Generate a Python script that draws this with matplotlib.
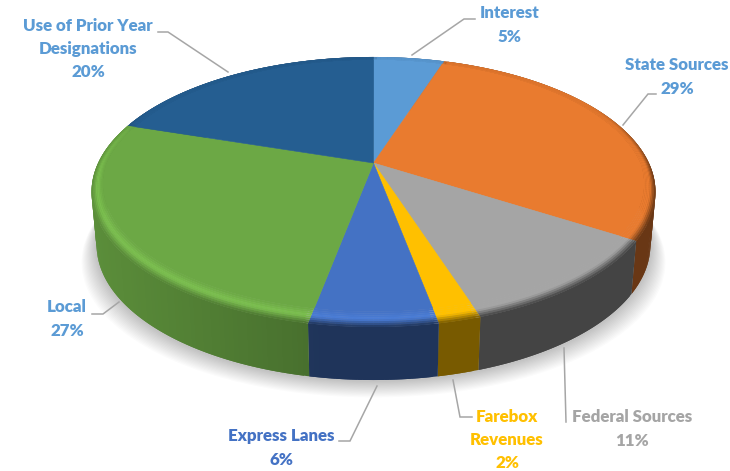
#!/usr/bin/env python
# -*- coding: utf-8 -*-

"""
Revenue sources drawn as a 3D pie with a bevelled rim.
"""

import numpy as np
import matplotlib
matplotlib.use('Agg')
import matplotlib.pyplot as plt
from matplotlib.collections import PolyCollection
from matplotlib.colors import to_rgb

names = ['Interest', 'State Sources', 'Federal Sources', 'Farebox\nRevenues',
         'Express Lanes', 'Local', 'Use of Prior Year\nDesignations']
values = [5, 29, 11, 2, 6, 27, 20]
colors = ['#5B9BD5', '#E97B2F', '#A5A5A5', '#FFC000', '#4472C4', '#6CA845', '#255E91']
label_colors = ['#5B9BD5', '#5B9BD5', '#A5A5A5', '#FFC000', '#4472C4', '#5B9BD5', '#5B9BD5']

# how dark the side wall is and how bright the rim gets, per slice
wall_shade = [0.6, 0.45, 0.41, 0.47, 0.46, 0.66, 0.6]
rim_shine = [1.0, 1.0, 1.0, 1.0, 1.1, 1.15, 1.0]

label_pos = [(510, 25), (677, 77), (632, 429), (507, 440), (281, 448), (67, 319), (88, 49)]
leaders = [
    [(412, 55), (464, 19), (475, 19)],
    [(623, 125), (648, 94), (656, 94)],
    [(564, 348), (566, 422)],
    [(453, 380), (460, 417), (472, 417)],
    [(377, 386), (350, 441), (339, 441)],
    [(119, 302), (103, 314), (92, 314)],
    [(228, 72), (168, 32), (158, 32)],
]

cx, cy = 373.5, 163.0
radius_x, radius_y = 275.4, 128.8
tilt = 0.2148
depth = 53.0


def project(r, t):
    # t runs clockwise from 12 o'clock, near side of the disc appears larger
    x = r * np.sin(t)
    y = -r * np.cos(t)
    w = 1 - tilt * y
    return cx + radius_x * x / w, cy + radius_y * y / w


def lower_edge(t):
    x, y = project(1.0, t)
    return cx + (x - cx) * 0.982, y + depth


def mix(a, b, s):
    return tuple(min(1, p + (q - p) * s) for p, q in zip(a, b))


def wall_lift(x):
    return 1 + 0.28 * np.clip((320 - x) / 230, 0, 1)


fig = plt.figure(figsize=(7.30, 4.71), dpi=100)
ax = fig.add_axes([0, 0, 1, 1])
ax.set_xlim(0, 730)
ax.set_ylim(471, 0)
ax.axis('off')

# soft shadow under the pie
around = np.linspace(0, 2 * np.pi, 361)
bx, by = lower_edge(around)
for grow in np.linspace(14, 0, 15):
    sx = cx + (bx - cx) * (1 + (grow + 1) / 276)
    sy = by + grow * 1.1 + 2
    ax.fill(sx, sy, color='#000000', alpha=0.016, lw=0, zorder=1)

edges = np.cumsum([0] + values) / sum(values) * 2 * np.pi

wall_quads, wall_cols = [], []
top_quads, top_cols = [], []
for i in range(len(values)):
    base = to_rgb(colors[i])
    steps = max(6, int(values[i] * 4))
    ts = np.linspace(edges[i], edges[i + 1], steps + 1)

    # side wall, each strip runs under the next one so no seams show
    for k in range(steps):
        t0, t1 = ts[k], ts[min(k + 2, steps)]
        x0, y0 = project(1.0, t0)
        x1, y1 = project(1.0, t1)
        xb0, yb0 = lower_edge(t0)
        xb1, yb1 = lower_edge(t1)
        c = tuple(min(1, v * wall_shade[i] * wall_lift(x0)) for v in base)
        wall_quads.append([(x0, y0), (x1, y1), (xb1, yb1), (xb0, yb0)])
        wall_cols.append(c)

    # flat part of the top
    rim = 0.03 + 0.045 * np.clip(-np.cos(ts), 0, 1)
    inner_x, inner_y = project(1 - rim, ts)
    face = [(cx, cy)] + list(zip(inner_x, inner_y))
    ax.fill(*zip(*face), color=base, lw=0.4, zorder=3)

    # bevelled rim, fades out on the far side of the disc
    shine = tuple(min(1, v * rim_shine[i]) for v in base)
    rings = np.linspace(0, 1, 9)
    for k in range(steps):
        t0, t1 = ts[k], ts[min(k + 2, steps)]
        w0 = 0.03 + 0.045 * max(-np.cos(t0), 0)
        w1 = 0.03 + 0.045 * max(-np.cos(t1), 0)
        fade = np.clip((-np.cos((t0 + t1) / 2) + 0.5) / 0.6, 0, 1)
        dark = tuple(min(1, v * wall_shade[i] * wall_lift(project(1.0, t0)[0])) for v in base)
        for s0, s1 in zip(rings[:-1], rings[1:]):
            r00, r01 = 1 - w0 * (1 - s0), 1 - w0 * (1 - s1)
            r10, r11 = 1 - w1 * (1 - s0), 1 - w1 * (1 - s1)
            s = (s0 + s1) / 2
            c = mix(base, shine, s / 0.5) if s < 0.5 else mix(shine, dark, (s - 0.5) / 0.5)
            c = mix(base, c, fade)
            top_quads.append([project(r00, t0), project(r10, t1),
                              project(r11, t1), project(r01, t0)])
            top_cols.append(c)

ax.add_collection(PolyCollection(wall_quads, facecolors=wall_cols, edgecolors='none',
                                 zorder=2))
ax.add_collection(PolyCollection(top_quads, facecolors=top_cols, edgecolors='none',
                                 zorder=4))

for line in leaders:
    xs, ys = zip(*line)
    ax.plot(xs, ys, color='#A6A6A6', lw=1.1, zorder=5, solid_joinstyle='miter')

for name, v, pos, col in zip(names, values, label_pos, label_colors):
    ax.text(pos[0], pos[1], '%s\n%d%%' % (name, v), color=col, family='Lato',
            fontweight='heavy', fontsize=12.2, ha='center', va='center',
            linespacing=1.55, zorder=6)

plt.savefig('out.png', dpi=100)
